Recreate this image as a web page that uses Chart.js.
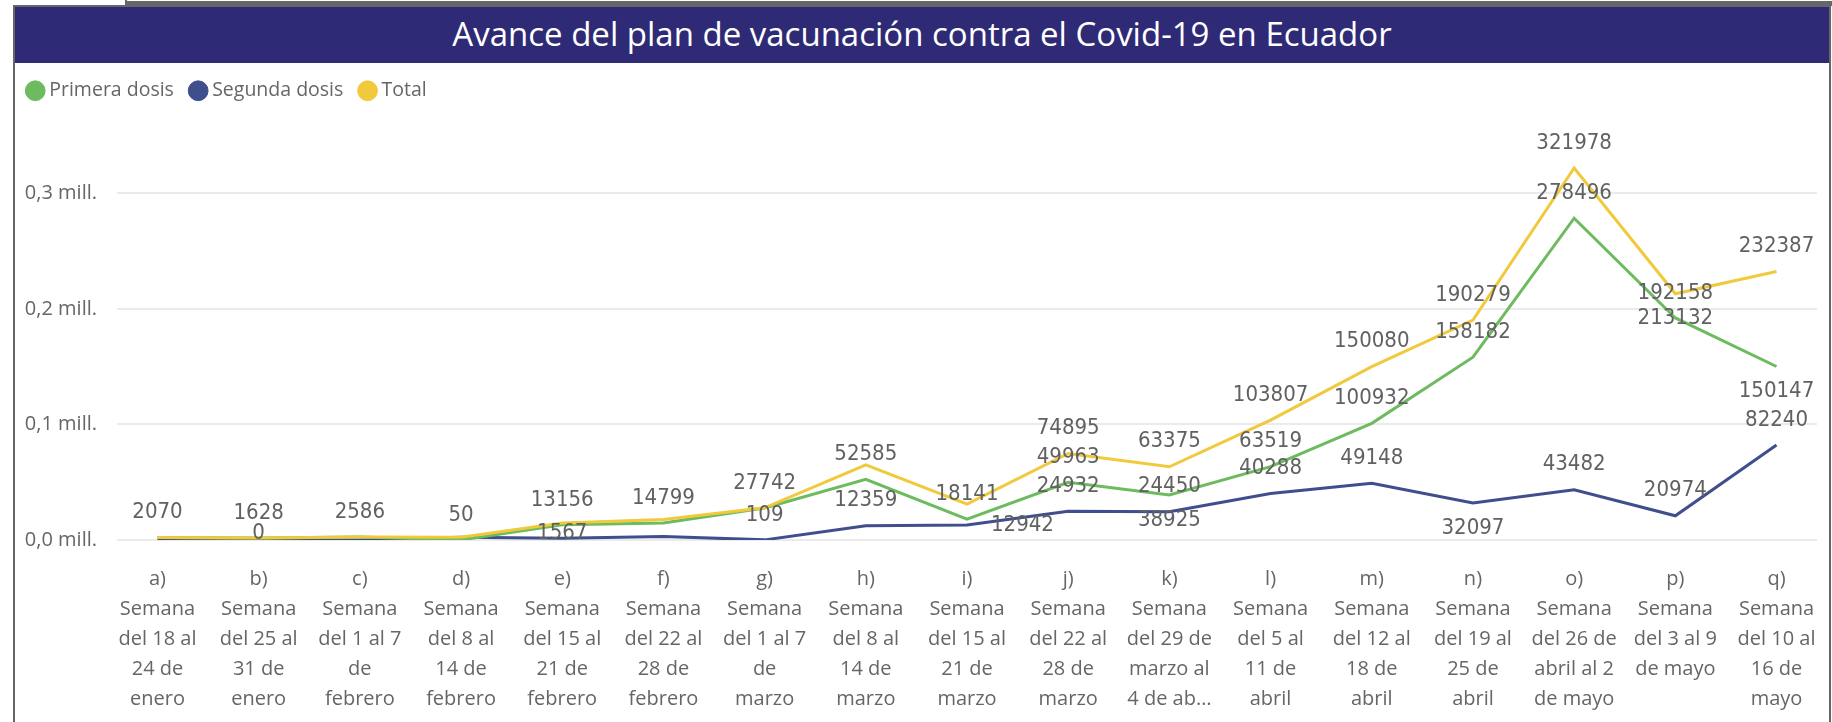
<!DOCTYPE html>
<html lang="es">
<head>
<meta charset="utf-8">
<title>Avance del plan de vacunación contra el Covid-19 en Ecuador</title>
<script src="https://cdn.jsdelivr.net/npm/chart.js@4.4.1/dist/chart.umd.min.js"></script>
<style>
  html, body { margin: 0; padding: 0; background: #fff; }
  body { width: 1832px; height: 722px; position: relative; overflow: hidden; font-family: 'Segoe UI', 'Open Sans', sans-serif; }
  .tab   { position: absolute; left: 0; top: 0; width: 125px; height: 5px; border-right: 2px solid #666; }
  .band  { position: absolute; left: 127px; top: 1px; right: 0; height: 5px; background: #666; }
  .frame { position: absolute; left: 13px; top: 5px; width: 1814px; height: 730px; border: 2px solid #666; }
  .title { position: absolute; left: 15px; top: 7px; width: 1814px; height: 56px; background: #2f2a75;
           color: #fff; font-size: 33px; line-height: 54px; text-align: center; }
  #chart { position: absolute; left: 15px; top: 63px; }
</style>
</head>
<body>
<div class="tab"></div>
<div class="band"></div>
<div class="frame"></div>
<div class="title">Avance del plan de vacunación contra el Covid-19 en Ecuador</div>
<canvas id="chart" width="1814" height="659"></canvas>
<script>
// ── Data ───────────────────────────────────────────────────────────────────
const WEEKS = [
  ['a)', 'Semana', 'del 18 al', '24 de', 'enero'],
  ['b)', 'Semana', 'del 25 al', '31 de', 'enero'],
  ['c)', 'Semana', 'del 1 al 7', 'de', 'febrero'],
  ['d)', 'Semana', 'del 8 al', '14 de', 'febrero'],
  ['e)', 'Semana', 'del 15 al', '21 de', 'febrero'],
  ['f)', 'Semana', 'del 22 al', '28 de', 'febrero'],
  ['g)', 'Semana', 'del 1 al 7', 'de', 'marzo'],
  ['h)', 'Semana', 'del 8 al', '14 de', 'marzo'],
  ['i)', 'Semana', 'del 15 al', '21 de', 'marzo'],
  ['j)', 'Semana', 'del 22 al', '28 de', 'marzo'],
  ['k)', 'Semana', 'del 29 de', 'marzo al', '4 de ab…'],
  ['l)', 'Semana', 'del 5 al', '11 de', 'abril'],
  ['m)', 'Semana', 'del 12 al', '18 de', 'abril'],
  ['n)', 'Semana', 'del 19 al', '25 de', 'abril'],
  ['o)', 'Semana', 'del 26 de', 'abril al 2', 'de mayo'],
  ['p)', 'Semana', 'del 3 al 9', 'de mayo'],
  ['q)', 'Semana', 'del 10 al', '16 de', 'mayo'],
];

const PRIMERA = [2070, 1628, 2586, 50, 13156, 14799, 27742, 52585, 18141, 49963, 38925, 63519, 100932, 158182, 278496, 192158, 150147];
const SEGUNDA = [0, 0, 0, 2400, 1567, 3000, 109, 12359, 12942, 24932, 24450, 40288, 49148, 32097, 43482, 20974, 82240];
const TOTAL   = [2070, 1628, 2586, 2450, 14723, 17799, 27851, 64944, 31083, 74895, 63375, 103807, 150080, 190279, 321978, 213132, 232387];

const Y_TICK_VALUES = [0, 100000, 200000, 300000];
const Y_TICKS       = ['0,0 mill.', '0,1 mill.', '0,2 mill.', '0,3 mill.'];

// where each value label goes: a = above, b = below, r = right, '' = not shown
const PLACE_PRIMERA = ['', '', '', 'a', 'a', 'a', 'a', 'a', 'a', 'a', 'b', 'a', 'a', 'a', 'a', 'a', 'b'];
const PLACE_SEGUNDA = ['', 'b', '', '', 'b', '', 'a', 'a', 'r', 'a', 'a', 'a', 'a', 'b', 'a', 'a', 'a'];
const PLACE_TOTAL   = ['a', 'a', 'a', '', '', '', '', '', '', 'a', 'a', 'a', 'a', 'a', 'a', 'b', 'a'];

const GREEN  = '#6dbb5e';
const NAVY   = '#3f4e8c';
const YELLOW = '#f0c93c';
const GREY   = '#666';

const FONT = "'Segoe UI', 'Open Sans', sans-serif";

// ── Plugins ────────────────────────────────────────────────────────────────
// extra space under the legend
const legendGap = {
  id: 'legendGap',
  beforeInit(chart) {
    const fit = chart.legend.fit;
    chart.legend.fit = function () { fit.call(this); this.height += 13.5; };
  }
};

// value labels drawn next to each point
const valueLabels = {
  id: 'valueLabels',
  afterDatasetsDraw(chart) {
    const { ctx, chartArea } = chart;
    ctx.save();
    ctx.font = "22px 'DejaVu Sans Condensed'";
    ctx.fillStyle = '#616161';
    ctx.textBaseline = 'middle';
    chart.data.datasets.forEach((ds, i) => {
      const meta = chart.getDatasetMeta(i);
      meta.data.forEach((pt, j) => {
        const where = ds.labelPlace[j];
        if (!where) return;
        const text = String(ds.data[j].y);
        let x = pt.x, y = pt.y;
        ctx.textAlign = 'center';
        if (where === 'a') y -= 25;
        if (where === 'b') y = Math.min(y + 25, chartArea.bottom - 7);
        if (where === 'r') { x += 24; ctx.textAlign = 'left'; }
        ctx.fillText(text, x, y);
      });
    });
    ctx.restore();
  }
};

// ── Chart ──────────────────────────────────────────────────────────────────
const points = arr => arr.map((v, i) => ({ x: i, y: v }));

new Chart(document.getElementById('chart'), {
  type: 'line',
  data: {
    datasets: [
      { label: 'Primera dosis', data: points(PRIMERA), borderColor: GREEN,  backgroundColor: GREEN,  labelPlace: PLACE_PRIMERA, order: 1 },
      { label: 'Segunda dosis', data: points(SEGUNDA), borderColor: NAVY,   backgroundColor: NAVY,   labelPlace: PLACE_SEGUNDA, order: 2 },
      { label: 'Total',         data: points(TOTAL),   borderColor: YELLOW, backgroundColor: YELLOW, labelPlace: PLACE_TOTAL,   order: 0 },
    ]
  },
  options: {
    responsive: false,
    animation: false,
    devicePixelRatio: 1,
    layout: { padding: { left: -4, right: 12, top: -2, bottom: 0 } },
    elements: {
      line:  { borderWidth: 3, tension: 0 },
      point: { radius: 0, hoverRadius: 0 }
    },
    plugins: {
      legend: {
        align: 'start',
        labels: {
          usePointStyle: true,
          pointStyle: 'circle',
          boxWidth: 8.5,
          boxHeight: 14,
          padding: 20,
          color: GREY,
          font: { family: FONT, size: 19.5 },
          sort: (a, b) => a.datasetIndex - b.datasetIndex
        }
      },
      tooltip: { enabled: false }
    },
    scales: {
      x: {
        type: 'linear',
        min: -0.4,
        max: 16.4,
        grid: { display: false, drawTicks: false },
        border: { display: false },
        ticks: {
          stepSize: 1,
          includeBounds: false,
          autoSkip: false,
          maxRotation: 0,
          minRotation: 0,
          padding: 24,
          color: GREY,
          font: { family: FONT, size: 20, lineHeight: 1.5 },
          callback: v => WEEKS[v]
        },
        afterFit(scale) { scale.height = 182; scale.paddingLeft = 0; scale.paddingRight = 0; }
      },
      y: {
        min: 0,
        max: 360000,
        grid: { color: '#ebebeb', lineWidth: 2, drawTicks: false },
        border: { display: false },
        ticks: {
          padding: 20,
          color: GREY,
          font: { family: FONT, size: 20 },
          callback: (v, i) => Y_TICKS[i]
        },
        afterBuildTicks(scale) { scale.ticks = Y_TICK_VALUES.map(v => ({ value: v })); },
        afterFit(scale) { scale.width = 106; }
      }
    }
  },
  plugins: [legendGap, valueLabels]
});
</script>
</body>
</html>
